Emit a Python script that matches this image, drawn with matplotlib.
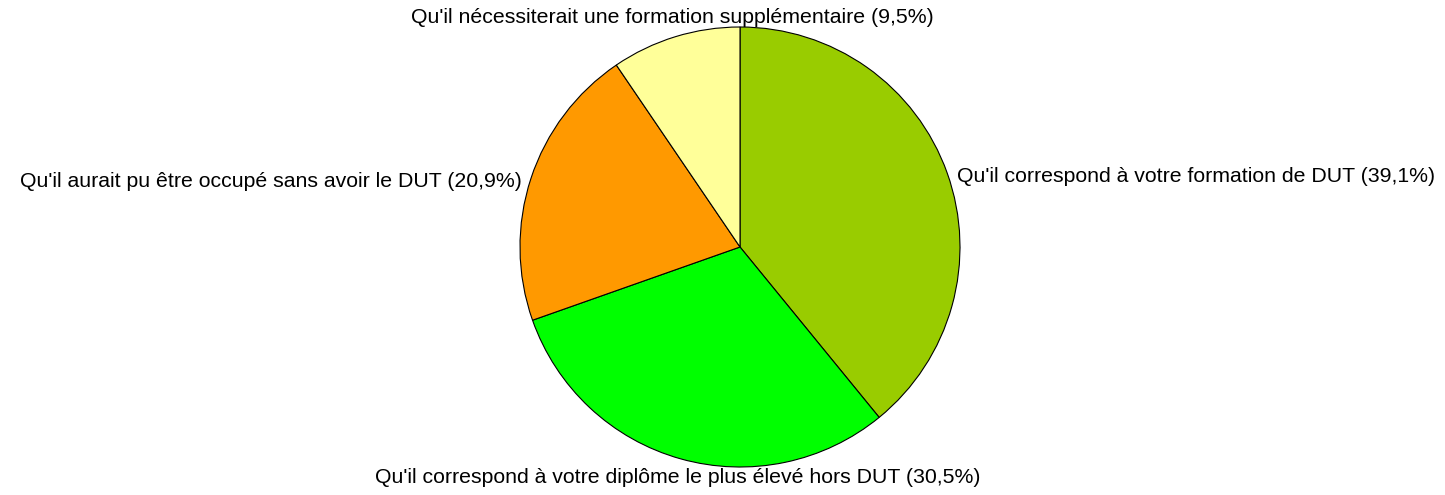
import numpy as np
import matplotlib
matplotlib.use("Agg")
import matplotlib.pyplot as plt

# ── data ────────────────────────────────────────────────────────────────────
labels = [
    "Qu'il correspond à votre formation de DUT (39,1%)",
    "Qu'il correspond à votre diplôme le plus élevé hors DUT (30,5%)",
    "Qu'il aurait pu être occupé sans avoir le DUT (20,9%)",
    "Qu'il nécessiterait une formation supplémentaire (9,5%)",
]
values = [39.1, 30.5, 20.9, 9.5]
colors = ["#99CC00", "#00FF00", "#FF9900", "#FFFF99"]

plt.rcParams["font.family"] = ["Liberation Sans", "DejaVu Sans"]

fig = plt.figure(figsize=(14.45, 4.95), dpi=100)
ax = fig.add_axes([520 / 1445, 28 / 495, 440 / 1445, 440 / 495])

wedges, _ = ax.pie(values, colors=colors, startangle=90, counterclock=False,
                   wedgeprops=dict(edgecolor="black", linewidth=0.8))

# ── labels placed around the pie at each wedge's mid-angle ──────────────────
for w, lab in zip(wedges, labels):
    ang = np.deg2rad((w.theta1 + w.theta2) / 2)
    c, s = np.cos(ang), np.sin(ang)
    r = 1.045
    ha = "center" if abs(c) < 0.5 else ("left" if c > 0 else "right")
    va = "center" if abs(s) < 0.5 else ("bottom" if s > 0 else "top")
    dy = -4.5 if va == "center" else 0
    ax.annotate(lab, (r * c, r * s), xytext=(0, dy), textcoords="offset points",
                ha=ha, va=va, fontsize=15.3, annotation_clip=False)

ax.set_xlim(-1, 1)
ax.set_ylim(-1, 1)
ax.set_aspect("equal")
ax.axis("off")

fig.savefig("out.png", dpi=100)
